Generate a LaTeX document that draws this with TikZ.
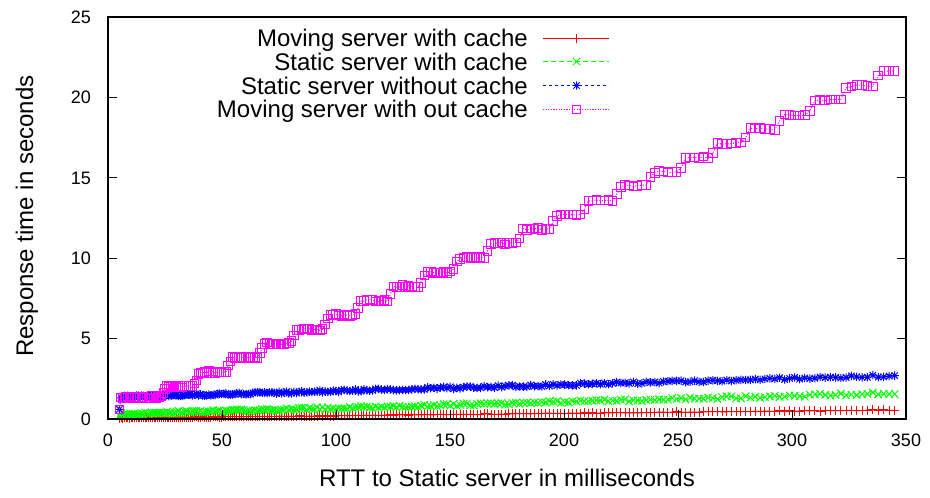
\documentclass[tikz,border=0pt]{standalone}
\usepackage{fontspec}
\setmainfont{Liberation Sans}
\definecolor{cRed}{RGB}{255,0,0}
\definecolor{cGreen}{RGB}{0,255,0}
\definecolor{cBlue}{RGB}{0,0,255}
\definecolor{cMag}{RGB}{255,0,255}
\begin{document}
\begin{tikzpicture}[x=1pt,y=1pt,
  frame/.style={line width=1.3pt,black},
  axtick/.style={line width=1pt,black},
  ticklab/.style={font=\fontsize{18}{18}\selectfont,inner sep=0pt},
  biglab/.style={font=\fontsize{24}{24}\selectfont,inner sep=0pt},
  serR/.style={draw=cRed,line width=1pt},
  serG/.style={draw=cGreen,line width=1pt},
  serB/.style={draw=cBlue,line width=1pt},
  serM/.style={draw=cMag,line width=1pt},
  lnR/.style={serR},
  lnG/.style={serG,dash pattern=on 5pt off 3pt},
  lnB/.style={serB,dash pattern=on 2.6pt off 3.4pt},
  lnM/.style={serM,dash pattern=on 1.1pt off 1.5pt},
]
\useasboundingbox (0,0) rectangle (930,498);

% ---- measurement series (generated) ----
\pgfmathsetseed{4}
\def\xc{5}
\xdef\lR{(5,0.05)}\xdef\mR{(5,0.05)}
\xdef\lG{(5,0.2)}\xdef\mG{(5,0.2)}
\xdef\lB{(5,0.6)}\xdef\mB{(5,0.6)}
\xdef\lM{(5,0.6)}\xdef\mM{(5,0.6)}
\loop
  \pgfmathsetmacro\xc{\xc+0.7+0.005*\xc}
  \pgfmathsetmacro\yr{0.06+0.00145*\xc+0.02*rand}
  \pgfmathsetmacro\yg{0.3+0.0038*\xc+0.08*rand}
  \pgfmathsetmacro\yb{1.35+0.0039*\xc+0.07*rand}
  \pgfmathsetmacro\tq{(\xc-26)/14.2}
  \pgfmathsetmacro\kq{floor(\tq)}
  \pgfmathsetmacro\fq{\tq-\kq}
  \pgfmathsetmacro\pa{max(2.02+0.89*\kq,1.35)}
  \pgfmathsetmacro\pb{max(2.02+0.89*(\kq+1),1.35)}
  \pgfmathsetmacro\ym{\pa+(\pb-\pa)*max(\fq-0.8,0)/0.2+0.07*rand}
  \xdef\lR{\lR -- (\xc,\yr)}\xdef\mR{\mR,(\xc,\yr)}
  \xdef\lG{\lG -- (\xc,\yg)}\xdef\mG{\mG,(\xc,\yg)}
  \xdef\lB{\lB -- (\xc,\yb)}\xdef\mB{\mB,(\xc,\yb)}
  \xdef\lM{\lM -- (\xc,\ym)}\xdef\mM{\mM,(\xc,\ym)}
\ifdim\xc pt<344pt\repeat

% ---- data area: lines, then point marks ----
\begin{scope}[shift={(108pt,79pt)},x=2.28pt,y=16.08pt]
  \draw[lnR] \lR;
  \foreach \p in \mR {\draw[serR] \p +(-4.5pt,0) -- +(4.5pt,0) \p +(0,-4.5pt) -- +(0,4.5pt);}
  \draw[lnG] \lG;
  \foreach \p in \mG {\draw[serG] \p +(-3.7pt,-3.7pt) -- +(3.7pt,3.7pt) \p +(-3.7pt,3.7pt) -- +(3.7pt,-3.7pt);}
  \draw[lnB] \lB;
  \foreach \p in \mB {\draw[serB] \p +(-4.2pt,0) -- +(4.2pt,0) \p +(0,-4.2pt) -- +(0,4.2pt)
     \p +(-3.2pt,-3.2pt) -- +(3.2pt,3.2pt) \p +(-3.2pt,3.2pt) -- +(3.2pt,-3.2pt);}
  \draw[lnM] \lM;
  \foreach \p in \mM {\draw[serM] \p +(-4.3pt,-4.3pt) rectangle +(4.3pt,4.3pt);}
\end{scope}

% ---- frame and ticks ----
\draw[frame] (108,79) rectangle (906,481);
\foreach \u in {50,100,...,300} {
  \draw[axtick] ({108+2.28*\u},79) -- ++(0,9);
}
\foreach \v in {5,10,15,20} {
  \draw[axtick] (108,{79+16.08*\v}) -- ++(9,0);
  \draw[axtick] (906,{79+16.08*\v}) -- ++(-9,0);
}
\foreach \u in {0,50,...,350} {
  \node[ticklab,anchor=base] (xt\u) at ({108+2.28*\u},51.6) {\u};
}
\foreach \v in {0,5,...,25} {
  \node[ticklab,anchor=base east] (yt\v) at (91,{79+16.08*\v-6.4}) {\v};
}

% ---- axis titles ----
\node[biglab,anchor=base] (xlab) at (507,11.4) {RTT to Static server in milliseconds};
\node[biglab,anchor=base,rotate=90] (ylab) at (33,282) {Response time in seconds};

% ---- key ----
\node[biglab,anchor=base east] (k1) at (528,451.1) {Moving server with cache};
\node[biglab,anchor=base east] (k2) at (528,427.7) {Static server with cache};
\node[biglab,anchor=base east] (k3) at (528,403.4) {Static server without cache};
\node[biglab,anchor=base east] (k4) at (528,380.1) {Moving server with out cache};
\coordinate (s1a) at (543,459.5); \coordinate (s1b) at (609,459.5); \coordinate (s1c) at (576.5,459.5);
\coordinate (s2a) at (543,436.5); \coordinate (s2b) at (609,436.5); \coordinate (s2c) at (576.5,436.5);
\coordinate (s3a) at (543,412.5); \coordinate (s3b) at (609,412.5); \coordinate (s3c) at (576.5,412.5);
\coordinate (s4a) at (543,388.5); \coordinate (s4b) at (609,388.5); \coordinate (s4c) at (576.5,388.5);
\draw[lnR] (s1a) -- (s1b);
\draw[serR] (s1c) +(-4.5pt,0) -- +(4.5pt,0) (s1c) +(0,-4.5pt) -- +(0,4.5pt);
\draw[lnG] (s2a) -- (s2b);
\draw[serG] (s2c) +(-3.7pt,-3.7pt) -- +(3.7pt,3.7pt) (s2c) +(-3.7pt,3.7pt) -- +(3.7pt,-3.7pt);
\draw[lnB] (s3a) -- (s3b);
\draw[serB] (s3c) +(-4.2pt,0) -- +(4.2pt,0) (s3c) +(0,-4.2pt) -- +(0,4.2pt)
   (s3c) +(-3.2pt,-3.2pt) -- +(3.2pt,3.2pt) (s3c) +(-3.2pt,3.2pt) -- +(3.2pt,-3.2pt);
\draw[lnM] (s4a) -- (s4b);
\draw[serM] (s4c) +(-4pt,-4pt) rectangle +(4pt,4pt);
\end{tikzpicture}
\end{document}
